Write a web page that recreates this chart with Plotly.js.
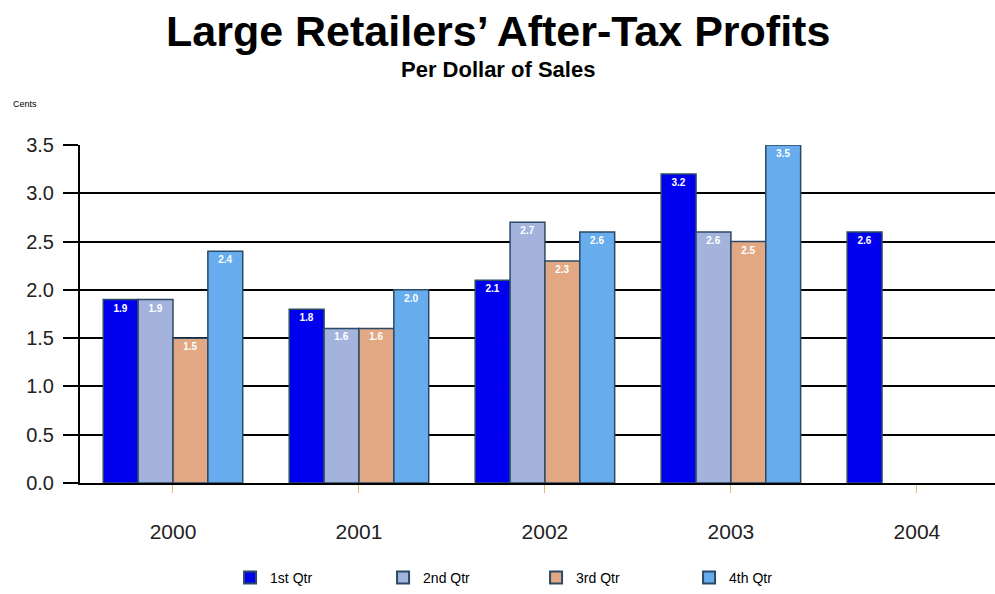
<!DOCTYPE html>
<html>
<head>
<meta charset="utf-8">
<script src="https://cdn.plot.ly/plotly-3.0.1.min.js"></script>
<style>html,body{margin:0;padding:0;background:#fff;}#chart{width:995px;height:594px;}</style>
</head>
<body>
<div id="chart"></div>
<script>
const years = ["2000", "2001", "2002", "2003", "2004"];
const seriesNames = ["1st Qtr", "2nd Qtr", "3rd Qtr", "4th Qtr"];
const q1 = [1.9, 1.8, 2.1, 3.2, 2.6];
const q2 = [1.9, 1.6, 2.7, 2.6, null];
const q3 = [1.5, 1.6, 2.3, 2.5, null];
const q4 = [2.4, 2.0, 2.6, 3.5, null];
const yTicks = [0, 0.5, 1.0, 1.5, 2.0, 2.5, 3.0, 3.5];
const colors = ["#0000ee", "#a3b3dc", "#e1a883", "#67acec"];
const titleText = "Large Retailers’ After-Tax Profits";
const subtitleText = "Per Dollar of Sales";
const unitText = "Cents";

const allValues = [q1, q2, q3, q4];
const traces = allValues.map((vals, i) => ({
  type: "bar",
  name: seriesNames[i],
  x: years,
  y: vals,
  marker: {color: colors[i], line: {color: "#2b4a66", width: 1.5}},
  texttemplate: "%{y:.1f}",
  textposition: "inside",
  insidetextanchor: "end",
  textangle: 0,
  textfont: {family: "Arial, Liberation Sans, sans-serif", size: 10, color: "#ffffff", weight: "bold"},
  hoverinfo: "x+y+name"
}));

const layout = {
  width: 995, height: 594,
  paper_bgcolor: "#ffffff", plot_bgcolor: "#ffffff",
  margin: {l: 80, r: 0, t: 145, b: 97},
  barmode: "group",
  bargap: 0.25,
  bargroupgap: 0,
  font: {family: "Arial, Liberation Sans, sans-serif", color: "#000"},
  xaxis: {
    type: "category",
    range: [-0.5, 4.42],
    showgrid: false,
    showline: true, linecolor: "#000", linewidth: 2,
    ticks: "outside", ticklen: 8, tickcolor: "#e6b87a", tickwidth: 1,
    tickfont: {size: 21, color: "#222"},
    ticklabelstandoff: 21,
    fixedrange: true
  },
  yaxis: {
    range: [0, 3.5],
    tickvals: yTicks,
    ticktext: yTicks.map(v => v.toFixed(1)),
    showgrid: true, gridcolor: "#000", gridwidth: 2,
    showline: true, linecolor: "#000", linewidth: 2,
    ticks: "outside", ticklen: 15, tickcolor: "#000", tickwidth: 2,
    tickfont: {size: 20, color: "#222"},
    ticklabelstandoff: 5,
    zeroline: false,
    fixedrange: true
  },
  legend: {
    orientation: "h",
    x: 0.164, xanchor: "left",
    y: -0.235, yanchor: "top",
    font: {size: 14, color: "#000"},
    entrywidth: 108, entrywidthmode: "pixels",
    itemsizing: "constant",
    traceorder: "normal"
  },
  annotations: [
    {text: "<b>" + titleText + "</b>", xref: "paper", yref: "paper", x: 0.457, y: 1.338,
     xanchor: "center", yanchor: "middle", showarrow: false,
     font: {size: 43, color: "#000"}},
    {text: "<b>" + subtitleText + "</b>", xref: "paper", yref: "paper", x: 0.457, y: 1.222,
     xanchor: "center", yanchor: "middle", showarrow: false,
     font: {size: 22, color: "#000"}},
    {text: unitText, xref: "paper", yref: "paper", x: -0.075, y: 1.12,
     xanchor: "left", yanchor: "middle", showarrow: false,
     font: {size: 9, color: "#000"}}
  ],
  showlegend: true
};

Plotly.newPlot("chart", traces, layout, {displayModeBar: false, staticPlot: true});
</script>
</body>
</html>
